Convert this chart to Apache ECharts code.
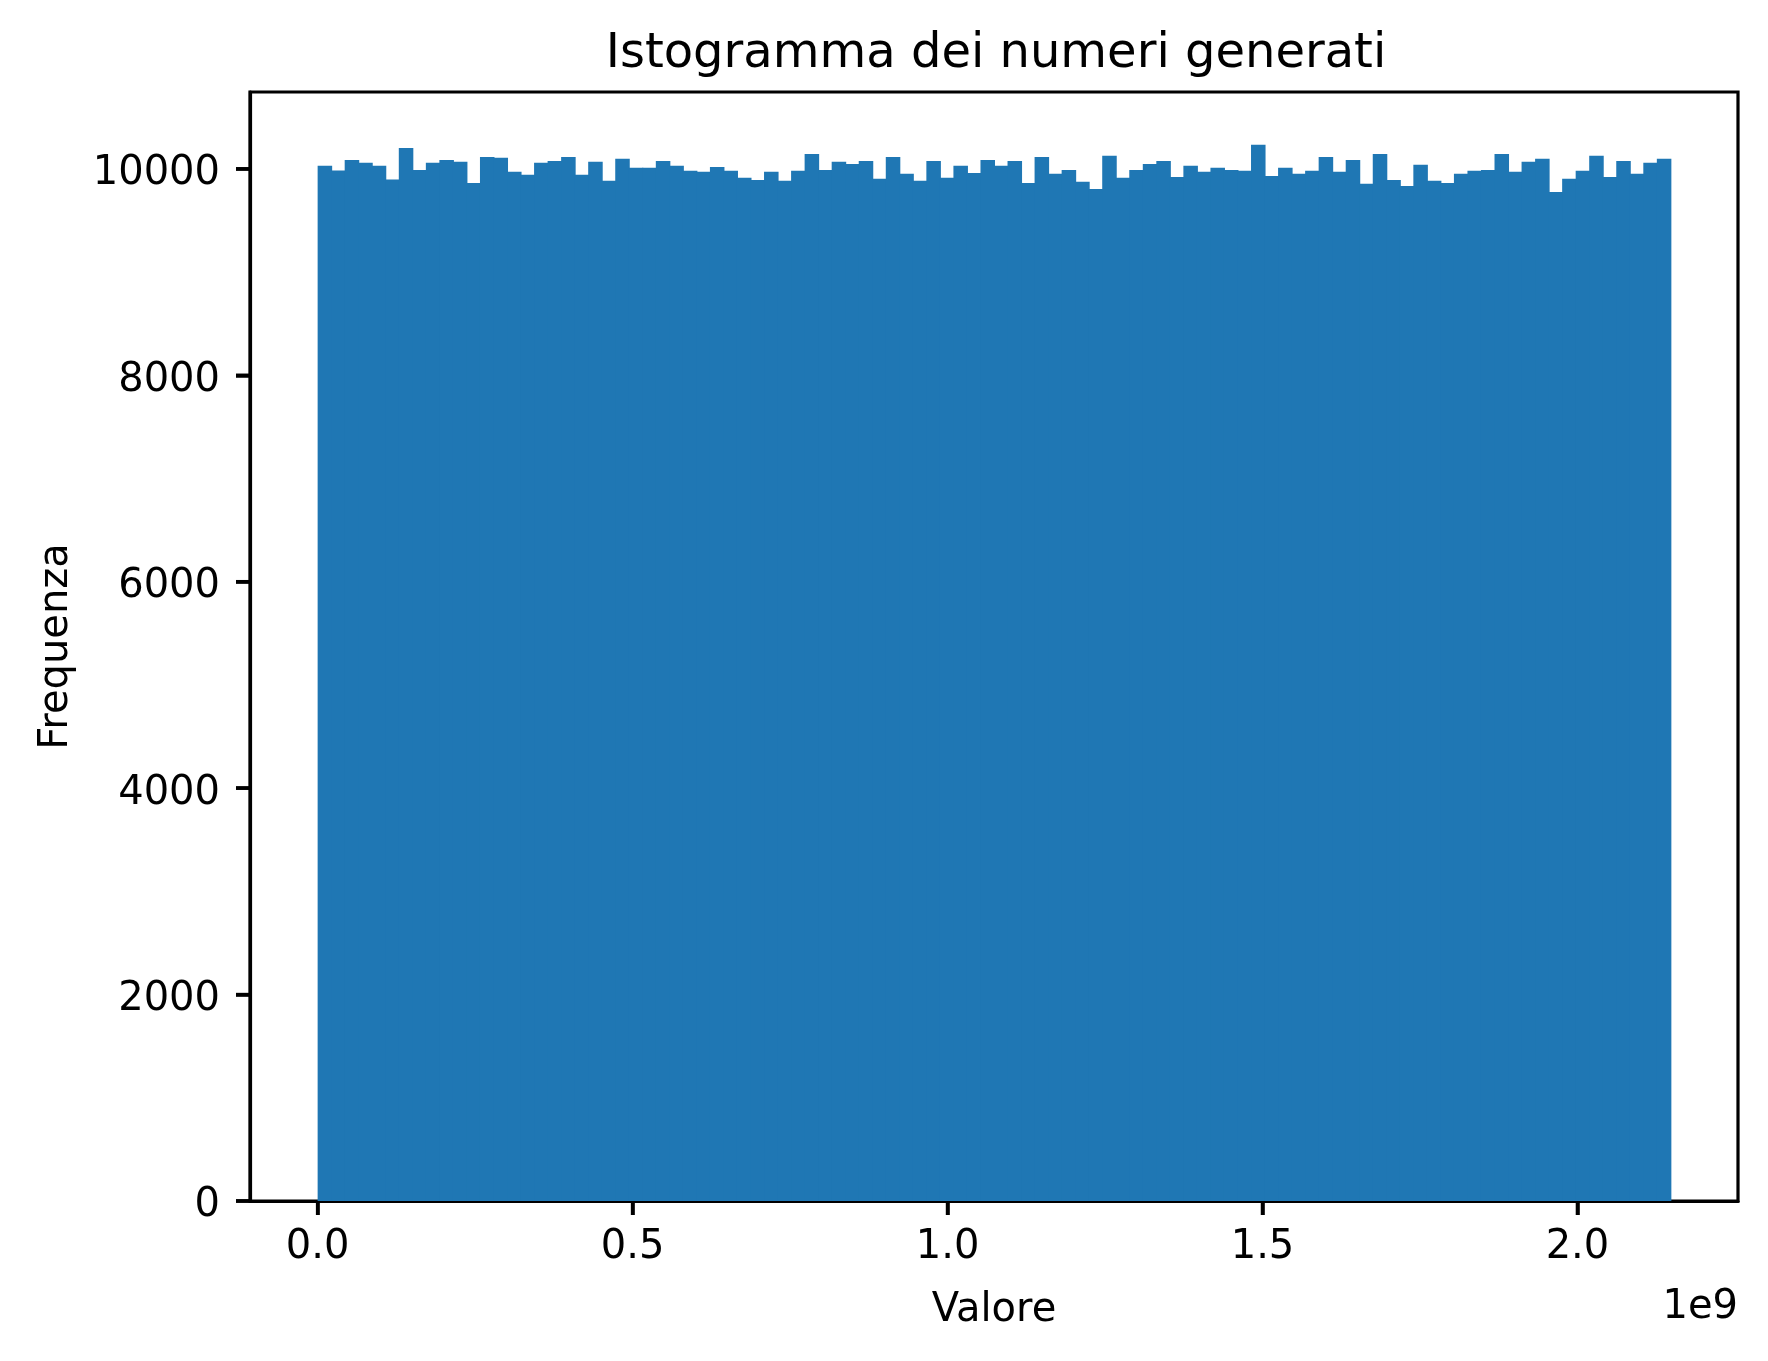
<!DOCTYPE html>
<html>
<head>
<meta charset="utf-8">
<script src="https://cdn.jsdelivr.net/npm/echarts@6/dist/echarts.min.js"></script>
<style>
html,body{margin:0;padding:0;background:#fff;}
#chart{width:1768px;height:1361px;}
</style>
</head>
<body>
<div id="chart"></div>
<script>
// Histogram data: 100 bins between binMin and binMax
const binMin = 0;
const binMax = 2147483647;
const binCount = 100;
const counts = [
  10029, 9984, 10087, 10058, 10029, 9897, 10203, 9990, 10058, 10087,
  10068, 9864, 10116, 10107, 9971, 9942, 10058, 10077, 10116, 9942,
  10068, 9884, 10097, 10010, 10010, 10077, 10029, 9981, 9971, 10019,
  9981, 9913, 9893, 9971, 9884, 9981, 10145, 9990, 10068, 10048,
  10077, 9903, 10116, 9952, 9884, 10077, 9913, 10029, 9961, 10087,
  10029, 10077, 9864, 10116, 9952, 9990, 9874, 9806, 10126, 9913,
  9990, 10048, 10077, 9922, 10029, 9971, 10010, 9990, 9981, 10233,
  9932, 10010, 9952, 9981, 10116, 9971, 10087, 9855, 10145, 9893,
  9835, 10039, 9884, 9864, 9952, 9981, 9990, 10145, 9971, 10068,
  10097, 9777, 9903, 9981, 10126, 9922, 10077, 9952, 10058, 10097
];
const xTickValues = [0, 0.5e9, 1.0e9, 1.5e9, 2.0e9];
const xTickLabels = ['0.0', '0.5', '1.0', '1.5', '2.0'];
const yTickValues = [0, 2000, 4000, 6000, 8000, 10000];

const binWidth = (binMax - binMin) / binCount;
const bars = counts.map((c, i) => [binMin + i * binWidth, binMin + (i + 1) * binWidth, c]);

const span = binMax - binMin;
const xMin = binMin - 0.05 * span;
const xMax = binMax + 0.05 * span;
const yMax = Math.max(...counts) * 1.05;

const FONT = 'DejaVu Sans';
const TICK_LEN = 14;
const TICK_W = 3.5;
const chart = echarts.init(document.getElementById('chart'));
chart.setOption({
  backgroundColor: '#ffffff',
  animation: false,
  title: {
    text: 'Istogramma dei numeri generati',
    left: 991,
    top: 26,
    textAlign: 'center',
    textStyle: { fontFamily: FONT, fontSize: 48, fontWeight: 'normal', color: '#000' }
  },
  grid: {
    left: 250, right: 30, top: 92, bottom: 160,
    show: true, borderColor: '#000', borderWidth: 3.2
  },
  xAxis: {
    type: 'value',
    min: xMin,
    max: xMax,
    name: 'Valore',
    nameLocation: 'middle',
    nameGap: 90,
    nameTextStyle: { fontFamily: FONT, fontSize: 40, color: '#000' },
    axisLine: { show: true, onZero: false, lineStyle: { color: '#000', width: 3.2 } },
    axisTick: { show: true, length: TICK_LEN, customValues: xTickValues, lineStyle: { color: '#000', width: TICK_W } },
    axisLabel: {
      customValues: xTickValues,
      formatter: v => xTickLabels[xTickValues.indexOf(v)] ?? '',
      fontFamily: FONT, fontSize: 40, color: '#000', margin: 27
    },
    splitLine: { show: false }
  },
  yAxis: {
    type: 'value',
    min: 0,
    max: yMax,
    name: 'Frequenza',
    nameLocation: 'middle',
    nameGap: 173,
    nameTextStyle: { fontFamily: FONT, fontSize: 40, color: '#000' },
    axisLine: { show: true, onZero: false, lineStyle: { color: '#000', width: 3.2 } },
    axisTick: { show: true, length: TICK_LEN, customValues: yTickValues, lineStyle: { color: '#000', width: TICK_W } },
    axisLabel: {
      customValues: yTickValues,
      formatter: v => '{n|' + String(v) + '}',
      rich: { n: { fontFamily: FONT, fontSize: 40, color: '#000', padding: [10, 0, 0, 0] } },
      fontFamily: FONT, fontSize: 40, color: '#000', margin: 30
    },
    splitLine: { show: false }
  },
  graphic: [{
    type: 'text',
    right: 30,
    top: 1288,
    style: { text: '1e9', font: '40px "DejaVu Sans"', fill: '#000' }
  }],
  series: [{
    type: 'custom',
    data: bars,
    encode: { x: [0, 1], y: 2 },
    renderItem: function (params, api) {
      const p0 = api.coord([api.value(0), api.value(2)]);
      const p1 = api.coord([api.value(1), 0]);
      return {
        type: 'rect',
        shape: { x: p0[0], y: p0[1], width: p1[0] - p0[0] + 1, height: p1[1] - p0[1] },
        style: { fill: '#1f77b4' }
      };
    }
  }, {
    // x-axis tick marks (below the axis)
    type: 'custom',
    silent: true,
    clip: false,
    z: 10,
    data: xTickValues.map(v => [v, 0]),
    encode: { x: 0, y: 1 },
    renderItem: function (params, api) {
      const p = api.coord([api.value(0), api.value(1)]);
      return {
        type: 'line',
        shape: { x1: p[0], y1: p[1], x2: p[0], y2: p[1] + TICK_LEN },
        style: { stroke: '#000', lineWidth: TICK_W }
      };
    }
  }, {
    // y-axis tick marks (left of the axis)
    type: 'custom',
    silent: true,
    clip: false,
    z: 10,
    data: yTickValues.map(v => [xMin, v]),
    encode: { x: 0, y: 1 },
    renderItem: function (params, api) {
      const p = api.coord([api.value(0), api.value(1)]);
      return {
        type: 'line',
        shape: { x1: p[0] - TICK_LEN, y1: p[1], x2: p[0], y2: p[1] },
        style: { stroke: '#000', lineWidth: TICK_W }
      };
    }
  }]
});
</script>
</body>
</html>
